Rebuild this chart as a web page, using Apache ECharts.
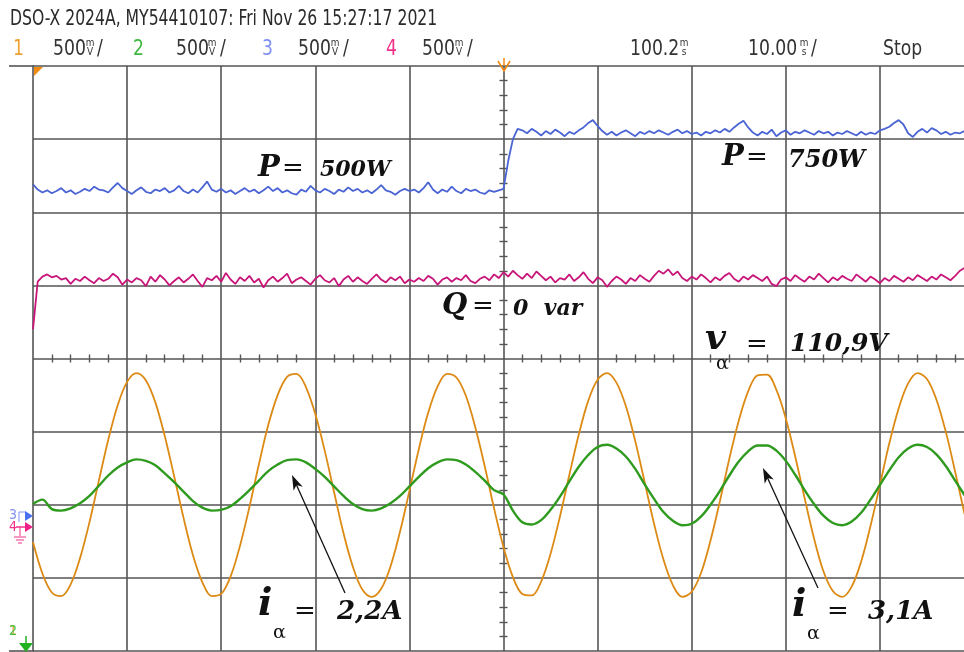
<!DOCTYPE html>
<html><head><meta charset="utf-8">
<script src="https://cdn.jsdelivr.net/npm/echarts@6/dist/echarts.min.js"></script>
<style>html,body{margin:0;padding:0;background:#fff}#c{width:964px;height:652px}</style>
</head><body><div id="c"></div>
<script>
// ---- time base (ms, relative to the trigger at screen centre) ----
const timeStartMs = -50;
const coarseStepMs = 1;    // spacing of v_alpha / i_alpha samples
const fineStepMs = 0.5;    // spacing of P / Q samples

// ---- traces, in screen divisions (0 = centre line) ----
const voltageVa = [-2.51,-2.94,-3.20,-3.25,-3.09,-2.73,-2.24,-1.67,-1.11,-0.64,
 -0.32,-0.20,-0.30,-0.60,-1.06,-1.61,-2.18,-2.69,-3.06,-3.25,
 -3.22,-2.98,-2.56,-2.03,-1.45,-0.91,-0.50,-0.25,-0.21,-0.39,
 -0.76,-1.26,-1.83,-2.39,-2.85,-3.16,-3.26,-3.15,-2.84,-2.37,
 -1.81,-1.24,-0.74,-0.38,-0.21,-0.26,-0.51,-0.94,-1.47,-2.05,
 -2.58,-2.99,-3.22,-3.24,-3.05,-2.67,-2.16,-1.59,-1.04,-0.58,
 -0.29,-0.20,-0.33,-0.65,-1.13,-1.69,-2.26,-2.75,-3.10,-3.26,
 -3.19,-2.93,-2.49,-1.95,-1.37,-0.85,-0.45,-0.23,-0.22,-0.43,
 -0.82,-1.34,-1.91,-2.46,-2.91,-3.18,-3.26,-3.12,-2.78,-2.29,
 -1.73,-1.16,-0.68,-0.34,-0.20,-0.28,-0.56,-1.00,-1.55,-2.13];

const currentIa = [-1.99,-1.93,-2.06,-2.08,-2.05,-1.98,-1.88,-1.74,-1.60,-1.49,
 -1.42,-1.38,-1.40,-1.46,-1.57,-1.69,-1.82,-1.95,-2.04,-2.08,
 -2.07,-2.02,-1.92,-1.80,-1.67,-1.54,-1.45,-1.39,-1.38,-1.42,
 -1.51,-1.62,-1.75,-1.88,-1.99,-2.06,-2.08,-2.05,-1.98,-1.88,
 -1.75,-1.62,-1.50,-1.42,-1.38,-1.39,-1.45,-1.55,-1.67,-1.80,
 -1.86,-2.08,-2.24,-2.27,-2.21,-2.07,-1.89,-1.68,-1.48,-1.32,
 -1.21,-1.18,-1.23,-1.34,-1.51,-1.72,-1.92,-2.10,-2.22,-2.28,
 -2.26,-2.16,-2.00,-1.81,-1.60,-1.41,-1.27,-1.19,-1.19,-1.26,
 -1.40,-1.59,-1.80,-1.99,-2.15,-2.25,-2.28,-2.23,-2.11,-1.93,
 -1.73,-1.53,-1.35,-1.23,-1.18,-1.21,-1.31,-1.47,-1.67,-1.87];

const powerP = [2.38,2.31,2.27,2.30,2.26,2.29,2.33,2.27,2.30,2.25,
 2.28,2.32,2.29,2.35,2.31,2.30,2.27,2.34,2.40,2.33,
 2.29,2.25,2.30,2.34,2.28,2.26,2.31,2.29,2.33,2.27,
 2.30,2.36,2.29,2.26,2.31,2.27,2.34,2.42,2.31,2.28,
 2.32,2.27,2.30,2.25,2.29,2.33,2.28,2.31,2.26,2.30,
 2.35,2.29,2.33,2.27,2.30,2.26,2.24,2.31,2.28,2.36,
 2.30,2.27,2.32,2.29,2.25,2.31,2.28,2.34,2.29,2.32,
 2.27,2.30,2.26,2.31,2.37,2.30,2.28,2.24,2.29,2.32,
 2.29,2.31,2.27,2.33,2.41,2.31,2.26,2.31,2.28,2.35,
 2.29,2.26,2.32,2.29,2.31,2.27,2.25,2.30,2.28,2.30,
 2.32,2.70,3.00,3.14,
 3.12,3.08,3.14,3.10,3.05,3.11,3.07,3.13,3.09,3.04,
 3.10,3.07,3.12,3.16,3.22,3.26,3.18,3.11,3.06,3.10,
 3.05,3.09,3.12,3.08,3.04,3.10,3.07,3.11,3.08,3.12,
 3.09,3.06,3.10,3.13,3.08,3.11,3.07,3.09,3.05,3.10,
 3.08,3.12,3.09,3.14,3.10,3.16,3.21,3.25,3.16,3.09,
 3.05,3.10,3.07,3.13,3.04,3.09,3.12,3.06,3.10,3.08,
 3.12,3.09,3.06,3.11,3.08,3.10,3.05,3.09,3.07,3.11,
 3.08,3.05,3.10,3.06,3.09,3.07,3.12,3.14,3.17,3.22,
 3.26,3.20,3.08,3.03,3.10,3.14,3.09,3.15,3.12,3.07,
 3.10,3.06,3.09,3.08,3.11,3.08];

const reactiveQ = [0.40,1.05,1.12,1.15,1.11,1.13,1.08,1.10,1.02,1.09,
 1.06,1.12,1.07,1.03,1.10,1.06,1.09,1.16,1.11,1.01,
 1.08,1.04,1.10,1.07,0.99,1.12,1.05,1.14,1.08,1.00,
 1.06,1.11,1.04,1.09,1.15,1.06,0.98,1.10,1.07,1.13,
 1.05,1.17,1.08,1.02,1.11,1.06,1.13,1.04,1.09,0.97,
 1.07,1.12,1.05,1.10,1.16,1.03,1.08,1.11,1.06,1.01,
 1.09,1.14,1.07,1.04,1.10,0.99,1.08,1.13,1.05,1.11,
 1.06,1.02,1.09,1.15,1.08,1.04,1.11,1.07,1.12,1.03,
 1.08,1.05,1.10,1.06,1.13,1.09,1.01,1.08,1.11,1.05,
 1.10,1.07,1.14,1.06,1.03,1.09,1.12,1.07,1.15,1.10,
 1.18,1.12,1.20,1.14,1.09,1.16,1.10,1.19,1.13,1.07,
 1.12,1.04,1.10,1.08,1.15,1.06,1.11,1.18,1.09,1.03,
 1.11,1.07,0.98,1.06,1.12,1.08,1.02,1.10,1.06,1.14,
 1.09,1.05,1.13,1.20,1.16,1.22,1.14,1.19,1.10,1.06,
 1.12,1.08,1.15,1.10,1.04,1.11,1.07,1.13,1.17,1.09,
 1.05,1.12,1.08,1.14,1.10,1.06,1.12,1.02,0.99,1.08,
 1.11,1.06,1.14,1.09,1.05,1.12,1.08,1.16,1.10,1.04,
 1.11,1.07,1.13,1.09,1.06,1.15,1.10,1.05,1.12,1.08,
 1.03,1.10,1.06,1.13,1.09,1.05,1.11,1.07,1.14,1.10,
 1.06,1.12,1.08,1.15,1.11,1.07,1.13,1.20,1.24,1.28];

// ---- header texts ----
const headerTitle = 'DSO-X 2024A, MY54410107: Fri Nov 26 15:27:17 2021';
const channelNames = ['1', '2', '3', '4'];
const channelScale = ['500', '500', '500', '500'];
const timeDelay = '100.2';
const timeScale = '10.00';
const runState = 'Stop';

function pairs(values, step) {
  return values.map((v, i) => [timeStartMs + i * step, v]);
}

const chart = echarts.init(document.getElementById('c'), null, {renderer: 'canvas'});
const gridColor = '#555';
const hdrFont = "'Liberation Sans Narrow','DejaVu Sans Condensed','Liberation Sans',sans-serif";
const mathFont = "'DejaVu Serif','Liberation Serif',serif";

function txt(text, x, y, size, color, opts) {
  opts = opts || {};
  return {type: 'text', x: x, y: y, silent: true, z: 100, scaleX: opts.sx || 1,
    style: {text: text, fill: color, align: opts.align || 'left', verticalAlign: 'middle',
      font: (opts.style || '') + ' ' + size + 'px ' + (opts.family || hdrFont)}};
}
const NS = {sx: 0.87};
function unit(top, bottom, x, y) {
  return [txt(top, x, y - 5, 11, '#333', {align: 'center', sx: 0.9}), txt(bottom, x, y + 4, 11, '#333', {align: 'center', sx: 0.9})];
}
function arrow(x1, y1, x2, y2) {
  const dx = x2 - x1, dy = y2 - y1, L = Math.hypot(dx, dy), ux = dx / L, uy = dy / L;
  const hl = 15, hw = 5;
  const bx = x2 - ux * hl, by = y2 - uy * hl;
  return [
    {type: 'line', silent: true, z: 90, shape: {x1: x1, y1: y1, x2: bx + ux * 4, y2: by + uy * 4}, style: {stroke: '#111', lineWidth: 1.3}},
    {type: 'polygon', silent: true, z: 90, shape: {points: [[x2, y2], [bx - uy * hw, by + ux * hw], [bx + ux * 4, by + uy * 4], [bx + uy * hw, by - ux * hw]]}, style: {fill: '#111'}}
  ];
}

const chanColors = ['#f0a030', '#40b840', '#7f90f0', '#f0308a'];
const chanX = [[13, 53, 90, 97], [133, 176, 212, 220], [262, 298, 335, 343], [386, 422, 459, 467]];
let g = [];
g.push(txt(headerTitle, 10, 19, 22, '#2a2a2a', {sx: 0.79}));
chanX.forEach((p, i) => {
  g.push(txt(channelNames[i], p[0], 49, 22, chanColors[i], NS));
  g.push(txt(channelScale[i], p[1], 49, 22, '#333', NS));
  g = g.concat(unit('m', 'V', p[2], 48));
  g.push(txt('/', p[3], 49, 22, '#333', NS));
});
g.push(txt(timeDelay, 630, 49, 22, '#333', NS));
g = g.concat(unit('m', 's', 684, 48));
g.push(txt(timeScale, 748, 49, 22, '#333', NS));
g = g.concat(unit('m', 's', 804, 48));
g.push(txt('/', 811, 49, 22, '#333', NS));
g.push(txt(runState, 883, 49, 22, '#333', NS));

// frame extensions and markers
g.push({type: 'line', silent: true, shape: {x1: 9, y1: 66, x2: 34, y2: 66}, style: {stroke: gridColor, lineWidth: 1.6}});
g.push({type: 'line', silent: true, shape: {x1: 9, y1: 651, x2: 34, y2: 651}, style: {stroke: gridColor, lineWidth: 1.6}});
g.push({type: 'polygon', silent: true, z: 95, shape: {points: [[34, 67], [43, 67], [34, 76]]}, style: {fill: '#f08a10'}});
g.push({type: 'polyline', silent: true, z: 95, shape: {points: [[498, 61], [504, 71], [510, 61]]}, style: {stroke: '#f08a10', lineWidth: 1.5, fill: null}});
g.push({type: 'line', silent: true, z: 95, shape: {x1: 504, y1: 58, x2: 504, y2: 66}, style: {stroke: '#f08a10', lineWidth: 1.5}});
// left channel reference markers
g.push(txt('3', 9, 515, 14, '#7f90f0'));
g.push({type: 'polygon', silent: true, z: 95, shape: {points: [[25, 511], [33, 516], [25, 521]]}, style: {fill: '#4a70f0'}});
g.push({type: 'polyline', silent: true, z: 95, shape: {points: [[19, 522], [19, 512], [25, 512]]}, style: {stroke: '#7f90f0', lineWidth: 1, fill: null}});
g.push(txt('4', 9, 527, 14, '#f0308a'));
g.push({type: 'polygon', silent: true, z: 96, shape: {points: [[25, 522], [33, 527], [25, 532]]}, style: {fill: '#f0208a'}});
g.push({type: 'line', silent: true, z: 95, shape: {x1: 16, y1: 527, x2: 26, y2: 527}, style: {stroke: '#f0308a', lineWidth: 1.5}});
g.push({type: 'line', silent: true, z: 95, shape: {x1: 20, y1: 527, x2: 20, y2: 536}, style: {stroke: '#f0308a', lineWidth: 1}});
g.push({type: 'line', silent: true, z: 95, shape: {x1: 14, y1: 537, x2: 26, y2: 537}, style: {stroke: '#f0308a', lineWidth: 1}});
g.push({type: 'line', silent: true, z: 95, shape: {x1: 16, y1: 540, x2: 24, y2: 540}, style: {stroke: '#f0308a', lineWidth: 1}});
g.push({type: 'line', silent: true, z: 95, shape: {x1: 18, y1: 543, x2: 22, y2: 543}, style: {stroke: '#f0308a', lineWidth: 1}});
g.push(txt('1', 9, 631, 14, '#f0a030'));
g.push(txt('2', 9, 631, 14, '#40c040'));
g.push({type: 'polygon', silent: true, z: 95, shape: {points: [[19, 643], [33, 643], [26, 652]]}, style: {fill: '#20b020'}});
g.push({type: 'line', silent: true, z: 95, shape: {x1: 26, y1: 636, x2: 26, y2: 644}, style: {stroke: '#20b020', lineWidth: 1.5}});

// annotations
const BI = {style: 'italic bold', family: mathFont};
const RG = {family: mathFont};
g.push(txt('P', 258, 168, 29, '#111', BI)); g.push(txt('=', 282, 169, 26, '#111', RG)); g.push(txt('500W', 320, 170, 22, '#111', BI));
g.push(txt('P', 722, 157, 29, '#111', BI)); g.push(txt('=', 746, 158, 26, '#111', RG)); g.push(txt('750W', 788, 161, 24, '#111', BI));
g.push(txt('Q', 442, 306, 29, '#111', BI)); g.push(txt('=', 472, 307, 26, '#111', RG)); g.push(txt('0  var', 513, 309, 22, '#111', BI));
g.push(txt('v', 705, 340, 36, '#111', BI)); g.push(txt('α', 716, 364, 19, '#111', RG)); g.push(txt('=', 746, 345, 26, '#111', RG)); g.push(txt('110,9V', 790, 344, 25, '#111', BI));
g.push(txt('i', 258, 605, 38, '#111', BI)); g.push(txt('α', 273, 633, 19, '#111', RG)); g.push(txt('=', 294, 612, 26, '#111', RG)); g.push(txt('2,2A', 337, 612, 26, '#111', BI));
g.push(txt('i', 792, 606, 38, '#111', BI)); g.push(txt('α', 807, 634, 19, '#111', RG)); g.push(txt('=', 827, 612, 26, '#111', RG)); g.push(txt('3,1A', 868, 612, 26, '#111', BI));
g = g.concat(arrow(345, 593, 292, 475));
g = g.concat(arrow(818, 588, 763, 468));

const minor = {show: true, splitNumber: 5, length: 4, lineStyle: {color: gridColor, width: 1.4}};
function xAx(pos, split) {
  return {type: 'value', min: -50, max: 50, interval: 10, position: pos,
    axisLine: {show: false, onZero: true, onZeroAxisIndex: 0}, axisTick: {show: false}, minorTick: minor,
    axisLabel: {show: false}, splitLine: {show: split, lineStyle: {color: gridColor, width: 1.6}}};
}
function yAx(pos, split) {
  return {type: 'value', min: -4, max: 4, interval: 1, position: pos,
    axisLine: {show: false, onZero: true, onZeroAxisIndex: 0}, axisTick: {show: false}, minorTick: minor,
    axisLabel: {show: false}, splitLine: {show: split, lineStyle: {color: gridColor, width: 1.6}}};
}

chart.setOption({
  animation: false,
  backgroundColor: '#ffffff',
  grid: {left: 33, top: 66, width: 941, height: 585, containLabel: false, outerBoundsMode: 'none'},
  xAxis: [xAx('bottom', true), xAx('top', false)],
  yAxis: [yAx('left', true), yAx('right', false)],
  series: [
    {name: 'P', type: 'line', data: pairs(powerP, fineStepMs), showSymbol: false, lineStyle: {color: '#4a64d4', width: 1.8}, z: 3},
    {name: 'Q', type: 'line', data: pairs(reactiveQ, fineStepMs), showSymbol: false, lineStyle: {color: '#c8157a', width: 1.8}, z: 3},
    {name: 'v_alpha', type: 'line', data: pairs(voltageVa, coarseStepMs), smooth: 0.35, showSymbol: false, lineStyle: {color: '#dc8a14', width: 1.8}, z: 4},
    {name: 'i_alpha', type: 'line', data: pairs(currentIa, coarseStepMs), smooth: 0.35, showSymbol: false, lineStyle: {color: '#2e9a1e', width: 2.4}, z: 5}
  ],
  graphic: {elements: g}
});
</script></body></html>
